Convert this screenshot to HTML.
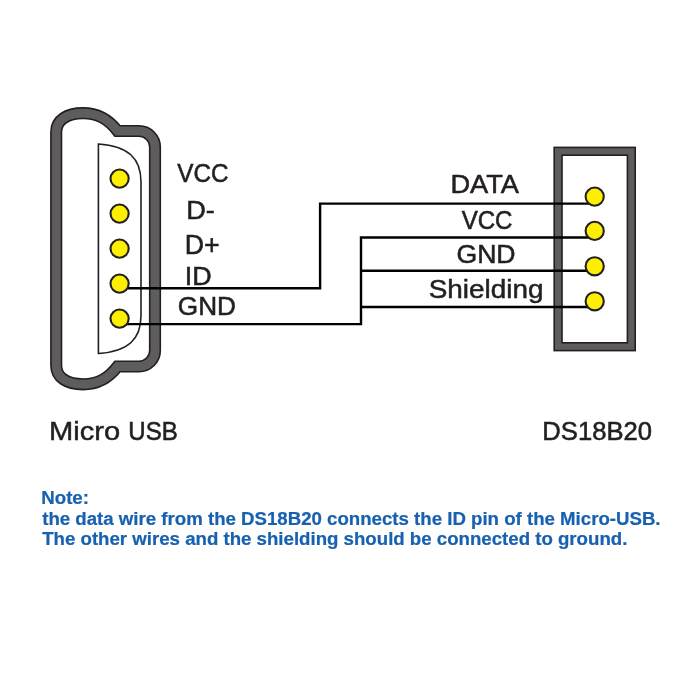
<!DOCTYPE html>
<html><head><meta charset="utf-8"><style>html,body{margin:0;padding:0;background:#fff;width:700px;height:700px;overflow:hidden}svg{display:block;will-change:transform}</style></head>
<body><svg width="700" height="700" viewBox="0 0 700 700" font-family="Liberation Sans, sans-serif">
<rect width="700" height="700" fill="#fff"/>
<path d="M 56.2 365.5 L 56.2 132
C 56.2 120, 67 113.2, 83 113.2
C 99 113.2, 109 120, 117.5 131
L 139 131 C 147.8 131, 155 138.2, 155 147
L 155 350.5 C 155 359.3, 147.8 366.5, 139 366.5
L 117.5 366.5
C 109 377.5, 99 384.3, 83 384.3
C 67 384.3, 56.2 377.5, 56.2 365.5 Z" fill="none" stroke="#231f20" stroke-width="12.2" stroke-linejoin="miter"/>
<path d="M 56.2 365.5 L 56.2 132
C 56.2 120, 67 113.2, 83 113.2
C 99 113.2, 109 120, 117.5 131
L 139 131 C 147.8 131, 155 138.2, 155 147
L 155 350.5 C 155 359.3, 147.8 366.5, 139 366.5
L 117.5 366.5
C 109 377.5, 99 384.3, 83 384.3
C 67 384.3, 56.2 377.5, 56.2 365.5 Z" fill="none" stroke="#5f5c5c" stroke-width="9.0" stroke-linejoin="miter"/>
<path d="M 98.4 144 C 128 146, 141 158, 141 182 L 141 315.5 C 141 339.5, 128 351.5, 98.4 353.5 Z" fill="none" stroke="#231f20" stroke-width="1.6"/>
<rect x="558.1" y="151.3" width="73.2" height="195.4" fill="none" stroke="#231f20" stroke-width="9.4"/>
<rect x="558.1" y="151.3" width="73.2" height="195.4" fill="none" stroke="#5f5c5c" stroke-width="6.2"/>
<g fill="none" stroke="#000" stroke-width="2.4" stroke-linejoin="miter"><polyline points="119.5,288.3 320.1,288.3 320.1,203.6 594.3,203.6" /><polyline points="119.5,324.1 361,324.1 361,237.5 594.3,237.5" /><polyline points="361,270.8 594.3,270.8" /><polyline points="361,307 594.3,307" /></g>
<g fill="#fdef00" stroke="#231f20" stroke-width="2.1">
<circle cx="119.6" cy="178.6" r="9.1"/><circle cx="119.6" cy="213.6" r="9.1"/><circle cx="119.6" cy="248.6" r="9.1"/><circle cx="119.6" cy="283.6" r="9.1"/><circle cx="119.6" cy="318.6" r="9.1"/>
<circle cx="594.7" cy="196.6" r="9.1"/><circle cx="594.7" cy="230.9" r="9.1"/><circle cx="594.7" cy="266.3" r="9.1"/><circle cx="594.7" cy="301.3" r="9.1"/>
</g>
<text transform="translate(177.23,181.82) scale(0.2425,0.2655)" font-size="100" font-weight="400" fill="#231f20" stroke="#231f20" stroke-width="2.27">VCC</text><text transform="translate(186.20,219.03) scale(0.2715,0.2669)" font-size="100" font-weight="400" fill="#231f20" stroke="#231f20" stroke-width="2.03">D-</text><text transform="translate(184.64,254.42) scale(0.2674,0.2698)" font-size="100" font-weight="400" fill="#231f20" stroke="#231f20" stroke-width="2.06">D+</text><text transform="translate(184.85,284.53) scale(0.2692,0.2597)" font-size="100" font-weight="400" fill="#231f20" stroke="#231f20" stroke-width="2.04">ID</text><text transform="translate(177.87,315.33) scale(0.2616,0.2612)" font-size="100" font-weight="400" fill="#231f20" stroke="#231f20" stroke-width="2.10">GND</text><text transform="translate(450.40,193.32) scale(0.2723,0.2640)" font-size="100" font-weight="400" fill="#231f20" stroke="#231f20" stroke-width="2.02">DATA</text><text transform="translate(461.63,228.62) scale(0.2410,0.2597)" font-size="100" font-weight="400" fill="#231f20" stroke="#231f20" stroke-width="2.28">VCC</text><text transform="translate(456.44,262.53) scale(0.2663,0.2640)" font-size="100" font-weight="400" fill="#231f20" stroke="#231f20" stroke-width="2.07">GND</text><text transform="translate(428.68,298.23) scale(0.2789,0.2596)" font-size="100" font-weight="400" fill="#231f20" stroke="#231f20" stroke-width="1.97">Shielding</text><text transform="translate(48.95,440.43) scale(0.2912,0.2626)" font-size="100" font-weight="400" fill="#231f20" stroke="#231f20" stroke-width="1.89">Micro</text><text transform="translate(128.35,440.43) scale(0.2404,0.2669)" font-size="100" font-weight="400" fill="#231f20" stroke="#231f20" stroke-width="2.29">USB</text><text transform="translate(542.32,440.33) scale(0.2564,0.2612)" font-size="100" font-weight="400" fill="#231f20" stroke="#231f20" stroke-width="2.15">DS18B20</text>
<text x="41.29" y="503.9" font-size="18.65" font-weight="700" fill="#1761b0" stroke="#1761b0" stroke-width="0.22">Note:</text><text x="42.21" y="524.9" font-size="18.65" font-weight="700" fill="#1761b0" stroke="#1761b0" stroke-width="0.22">the data wire from the DS18B20 connects the ID pin of the Micro-USB.</text><text x="42.21" y="545.3" font-size="18.65" font-weight="700" fill="#1761b0" stroke="#1761b0" stroke-width="0.22">The other wires and the shielding should be connected to ground.</text>
</svg></body></html>
